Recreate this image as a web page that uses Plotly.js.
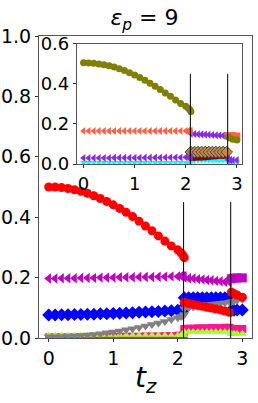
<!DOCTYPE html>
<html><head><meta charset="utf-8">
<script src="https://cdn.plot.ly/plotly-3.0.1.min.js"></script>
<style>html,body{margin:0;padding:0;background:#fff}#chart{width:258px;height:403px}</style>
</head><body><div id="chart"></div>
<script>
// x grids (t_z)
const xA = [0,0.1,0.2,0.3,0.4,0.5,0.6,0.7,0.8,0.9,1.0,1.1,1.2,1.3,1.4,1.5,1.6,1.7,1.8,1.9,2.0,2.05,2.08,2.1];
const xB = [2.1,2.17,2.24,2.31,2.38,2.45,2.52,2.59,2.66,2.73,2.8];
const xC = [2.83,2.87,2.92,3.0];
const transitions = [2.09, 2.82];
const transitionTop = 0.45;

// main panel series
const redA = [0.500,0.500,0.498,0.495,0.491,0.486,0.479,0.471,0.462,0.452,0.441,0.429,0.416,0.402,0.387,0.371,0.355,0.338,0.321,0.305,0.292,0.282,0.274,0.266];
const redB = [0.118,0.114,0.111,0.108,0.105,0.102,0.099,0.096,0.093,0.089,0.085];
const redC = [0.152,0.147,0.142,0.135];
const magA = [0.197,0.197,0.198,0.198,0.198,0.199,0.199,0.199,0.200,0.200,0.200,0.201,0.201,0.201,0.202,0.202,0.202,0.203,0.203,0.204,0.204,0.205,0.205,0.205];
const magB = [0.200,0.198,0.197,0.195,0.194,0.192,0.191,0.189,0.188,0.186,0.185];
const magC = [0.196,0.198,0.199,0.199];
const blueA = [0.076,0.076,0.077,0.077,0.078,0.078,0.079,0.079,0.080,0.080,0.081,0.082,0.083,0.084,0.085,0.086,0.087,0.088,0.089,0.090,0.092,0.093,0.094,0.095];
const blueB = [0.133,0.133,0.133,0.133,0.133,0.133,0.133,0.133,0.133,0.133,0.133];
const blueC = [0.092,0.092,0.093,0.093];
const grayA = [0.004,0.004,0.005,0.006,0.007,0.008,0.010,0.012,0.014,0.017,0.020,0.023,0.027,0.031,0.035,0.040,0.045,0.050,0.055,0.061,0.067,0.071,0.074,0.078];
const grayB = [0.097,0.100,0.103,0.105,0.107,0.109,0.111,0.113,0.115,0.117,0.118];
const grayC = [0.120,0.122,0.125,0.128];
const pinkA = [0.004,0.004,0.004,0.004,0.004,0.004,0.005,0.005,0.005,0.005,0.005,0.006,0.006,0.006,0.006,0.007,0.007,0.007,0.008,0.008,0.009,0.009,0.010,0.010];
const pinkB = [0.030,0.031,0.031,0.032,0.032,0.032,0.033,0.033,0.033,0.034,0.034];
const pinkC = [0.030,0.030,0.030,0.030];
const lgA = [0.010,0.010,0.010,0.010,0.010,0.010,0.010,0.010,0.010,0.010,0.010,0.010,0.010,0.010,0.010,0.010,0.010,0.010,0.010,0.010,0.010,0.010,0.010,0.010];
const lgB = [0.020,0.020,0.020,0.020,0.020,0.020,0.020,0.020,0.020,0.020,0.020];
const lgC = [0.014,0.014,0.014,0.014];
const oliveMainA = [0.003,0.003,0.003,0.003,0.003,0.003,0.003,0.003,0.003,0.003,0.003,0.003,0.003,0.003,0.003,0.003,0.003,0.003,0.003,0.003,0.003,0.003,0.003,0.003];

// inset series
const oliA = [0.506,0.505,0.503,0.500,0.496,0.491,0.484,0.476,0.467,0.456,0.445,0.432,0.418,0.403,0.388,0.372,0.355,0.338,0.320,0.302,0.288,0.279,0.271,0.262];
const oliC = [0.135,0.130,0.124,0.120];
const tomA = [0.165,0.165,0.165,0.165,0.165,0.165,0.165,0.165,0.165,0.165,0.165,0.165,0.165,0.165,0.165,0.165,0.165,0.165,0.165,0.165,0.165,0.165,0.165,0.165];
const tomC = [0.142,0.142,0.141,0.140];
const purA = [0.030,0.030,0.030,0.030,0.030,0.030,0.031,0.031,0.031,0.031,0.031,0.031,0.032,0.032,0.032,0.032,0.033,0.033,0.033,0.033,0.034,0.034,0.034,0.035];
const purB = [0.152,0.150,0.149,0.148,0.147,0.146,0.145,0.144,0.143,0.142,0.140];
const purC = [0.022,0.021,0.020,0.020];
const peruB = [0.060,0.060,0.060,0.060,0.060,0.060,0.060,0.060,0.060,0.060,0.060];
const drB = [0.030,0.030,0.031,0.032,0.033,0.034,0.036,0.038,0.040,0.040,0.040];
const cyA = [0.008,0.008,0.008,0.008,0.008,0.008,0.008,0.008,0.008,0.008,0.008,0.008,0.008,0.008,0.008,0.008,0.008,0.008,0.008,0.008,0.008,0.008,0.008,0.008];
const cyB = [0.020,0.020,0.020,0.020,0.020,0.020,0.020,0.020,0.020,0.020,0.020];
const cyC = [0.010,0.010,0.010,0.010];

const titleText = '<i>ε</i><sub><i>p</i></sub> = 9';
const xTitleText = '<i>t</i><sub><i>z</i></sub>';

function mk(x, y, color, symbol, size, ax, line) {
  return {x: x, y: y, type: 'scatter', mode: 'markers', xaxis: ax[0], yaxis: ax[1], showlegend: false,
    marker: {color: color, symbol: symbol, size: size, line: {width: line ? 1 : 0, color: line || color}}};
}
const M = ['x','y'], I = ['x2','y2'];
const traces = [];
// main
traces.push(mk(xA, oliveMainA, '#808000', 'circle', 5, M));
traces.push(mk(xA, pinkA, '#ff1493', 'square', 7, M));
traces.push(mk(xB, pinkB, '#ff1493', 'square', 8, M));
traces.push(mk(xC, pinkC, '#ff1493', 'square', 8, M));
traces.push(mk(xA, lgA, '#adff2f', 'triangle-up', 7, M));
traces.push(mk(xB, lgB, '#adff2f', 'triangle-up', 8, M));
traces.push(mk(xC, lgC, '#adff2f', 'triangle-up', 8, M));
traces.push(mk(xA, magA, '#bf00bf', 'triangle-left', 9, M));
traces.push(mk(xB, magB, '#bf00bf', 'triangle-left', 9, M));
traces.push(mk(xC, magC, '#bf00bf', 'square', 9, M));
traces.push(mk(xA, blueA, '#0000ff', 'diamond', 10, M));
traces.push(mk(xB, blueB, '#0000ff', 'diamond', 10, M));
traces.push(mk(xC, blueC, '#0000ff', 'diamond', 10, M));
traces.push(mk(xA, grayA, '#808080', 'triangle-down', 9, M));
traces.push(mk(xB, grayB, '#808080', 'triangle-down', 9, M));
traces.push(mk(xC, grayC, '#808080', 'triangle-down', 9, M));
traces.push(mk(xA, redA, '#ff0000', 'circle', 9, M));
traces.push(mk(xB, redB, '#ff0000', 'circle', 9, M));
traces.push(mk(xC, redC, '#ff0000', 'circle', 9, M));
transitions.forEach(t => traces.push({x: [t, t], y: [0, transitionTop], type: 'scatter', mode: 'lines', xaxis: 'x', yaxis: 'y', showlegend: false, line: {color: '#000', width: 1}}));
// inset
traces.push(mk(xA, cyA, '#00ffff', 'triangle-down', 6, I));
traces.push(mk(xB, cyB, '#00ffff', 'triangle-down', 7, I));
traces.push(mk(xC, cyC, '#00ffff', 'triangle-down', 6, I));
traces.push(mk(xB, drB, '#8b0000', 'circle', 6, I));
traces.push(mk(xB, peruB, '#cd853f', 'diamond', 9, I, '#2f4f4f'));
traces.push(mk(xA, purA, '#8a2be2', 'triangle-left', 7, I));
traces.push(mk(xB, purB, '#8a2be2', 'triangle-left', 7, I));
traces.push(mk(xC, purC, '#8a2be2', 'triangle-left', 7, I));
traces.push(mk(xA, tomA, '#ff6347', 'triangle-left', 7, I));
traces.push(mk(xC, tomC, '#ff6347', 'square', 7, I));
traces.push(mk(xA, oliA, '#808000', 'circle', 7, I));
traces.push(mk(xC, oliC, '#808000', 'circle', 7, I));
transitions.forEach(t => traces.push({x: [t, t], y: [0, transitionTop], type: 'scatter', mode: 'lines', xaxis: 'x2', yaxis: 'y2', showlegend: false, line: {color: '#000', width: 1}}));

const axBase = {showgrid: false, zeroline: false, showline: true, mirror: true, linecolor: '#555', linewidth: 1,
  ticks: 'outside', ticklen: 3, tickcolor: '#333', tickfont: {family: 'DejaVu Sans', size: 19, color: '#000'}};
const layout = {
  width: 258, height: 403,
  margin: {l: 39, r: 6, t: 36, b: 65},
  paper_bgcolor: '#fff', plot_bgcolor: '#fff',
  font: {family: 'DejaVu Sans', color: '#000'},
  title: {text: titleText, font: {family: 'DejaVu Sans', size: 22, color: '#000'}, x: 0.56, xanchor: 'center', y: 0.957, yanchor: 'middle', yref: 'container'},
  xaxis: Object.assign({}, axBase, {domain: [0, 1], range: [-0.15, 3.15], tickvals: [0,1,2,3], ticktext: ['0','1','2','3'], anchor: 'y'}),
  yaxis: Object.assign({}, axBase, {domain: [0, 1], range: [0, 1], tickvals: [0,0.2,0.4,0.6,0.8,1.0], ticktext: ['0.0','0.2','0.4','0.6','0.8','1.0'], anchor: 'x', ticklabelstandoff: 0}),
  xaxis2: Object.assign({}, axBase, {domain: [0.178, 0.953], range: [-0.13, 3.1], tickvals: [0,1,2,3], ticktext: ['0','1','2','3'], anchor: 'y2', tickfont: {family: 'DejaVu Sans', size: 18, color: '#000'}}),
  yaxis2: Object.assign({}, axBase, {domain: [0.576, 0.974], range: [0, 0.6], tickvals: [0,0.2,0.4,0.6], ticktext: ['0.0','0.2','0.4','0.6'], anchor: 'x2', tickfont: {family: 'DejaVu Sans', size: 18, color: '#000'}}),
  annotations: [{text: xTitleText, xref: 'paper', yref: 'paper', x: 0.5, y: -0.139, xanchor: 'center', yanchor: 'middle', showarrow: false, font: {family: 'DejaVu Sans', size: 28, color: '#000'}}]
};
Plotly.newPlot('chart', traces, layout, {displayModeBar: false, staticPlot: true});
</script></body></html>
